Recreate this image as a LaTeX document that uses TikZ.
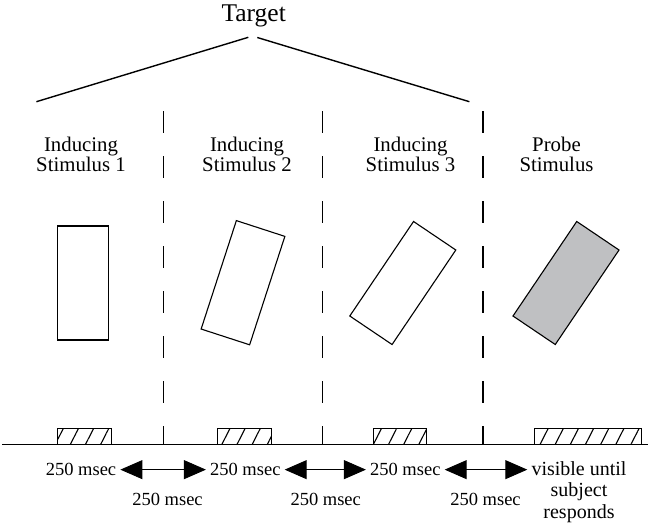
\documentclass[tikz,border=0pt]{standalone}
\usepackage{fontspec}
\setmainfont{Liberation Serif}
\usetikzlibrary{arrows.meta, patterns.meta, positioning}
\definecolor{probegray}{RGB}{191,192,194}

\begin{document}
\begin{tikzpicture}[x=1pt, y=-1pt]
        \tikzstyle{stimtext}=[align=center, inner sep=0pt, font=\fontsize{20.8}{20}\selectfont]
        \tikzstyle{timetext}=[anchor=base, inner ysep=0pt, inner xsep=4pt, font=\fontsize{18.5}{21.5}\selectfont]
        \tikzstyle{bar}=[draw, line width=1.1pt, inner sep=0pt, minimum width=51pt, minimum height=114pt]
        \tikzstyle{onbox}=[draw, line width=1pt, pattern={Lines[angle=63, distance=13.5pt, line width=1.1pt]}]
        \tikzstyle{divider}=[line width=1.6pt, dash pattern=on 22.3pt off 22.7pt]
        \tikzstyle{timearrow}=[line width=0.9pt, {Triangle[length=22pt, width=19pt]}-{Triangle[length=22pt, width=19pt]}]

        \useasboundingbox (0,0) rectangle (648,523);

        % Target and its two branches
        \node[anchor=base, inner sep=0pt, font=\fontsize{25.5}{25.5}\selectfont] (target) at (253.7,21.7) {Target};
        \coordinate (tl) at (248.3,37.3);
        \coordinate (tr) at (257.3,37.5);
        \coordinate (l1) at (36.4,101.7);
        \coordinate (r1) at (469.4,101.7);
        \draw[line width=1.4pt] (tl) -- (l1);
        \draw[line width=1.4pt] (tr) -- (r1);

        % Stimulus labels
        \node[stimtext] (s1) at (81,154) {Inducing\\Stimulus 1};
        \node[stimtext] (s2) at (247,154) {Inducing\\Stimulus 2};
        \node[stimtext] (s3) at (410.5,154) {Inducing\\Stimulus 3};
        \node[stimtext] (s4) at (556.5,154) {Probe\\Stimulus};

        % Dividers between the frames
        \foreach \x in {163.3,322.6,482.8}
            \draw[divider] (\x,111) -- (\x,444.3);

        % The bars
        \node[bar] (bar1) at (83,283) {};
        \node[bar, rotate=-18] (bar2) at (243,282.7) {};
        \node[bar, rotate=-34] (bar3) at (402.8,283) {};
        \node[bar, rotate=-34, fill=probegray] (bar4) at (566,283) {};

        % Time line with the on periods
        \coordinate (tstart) at (2,444.3);
        \coordinate (tend) at (648,444.3);
        \draw[onbox] (57.3,428.3) rectangle (111,444.3);
        \draw[onbox] (217.3,428.3) rectangle (271,444.3);
        \draw[onbox] (373.5,428.3) rectangle (426,444.3);
        \draw[onbox] (534,428.3) rectangle (641.7,444.3);
        \draw[line width=1.5pt] (tstart) -- (tend);

        % Durations
        \node[timetext] (d1) at (81,475.7) {250 msec};
        \node[timetext] (d2) at (245.3,475.7) {250 msec};
        \node[timetext] (d3) at (405.3,475.7) {250 msec};
        \node[timetext] (g1) at (167.5,505) {250 msec};
        \node[timetext] (g2) at (325.7,505) {250 msec};
        \node[timetext] (g3) at (485.5,505) {250 msec};
        \node[timetext, anchor=north, align=center, font=\fontsize{20}{21.5}\selectfont] (vis) at (579,461) {visible until\\subject\\responds};

        % Blank intervals
        \draw[timearrow] (d1) -- (d2);
        \draw[timearrow] (d2) -- (d3);
        \draw[timearrow] (d3) -- (d3 -| vis.west);
\end{tikzpicture}
\end{document}
